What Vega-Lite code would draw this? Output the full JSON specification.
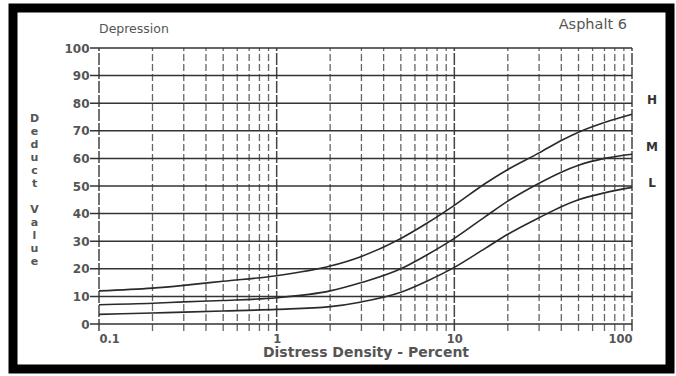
{
  "$schema": "https://vega.github.io/schema/vega-lite/v6.json",
  "width": 657,
  "height": 361,
  "autosize": {"type": "none"},
  "padding": {"left": 13, "top": 8, "right": 6, "bottom": 7},
  "background": "white",
  "config": {
    "view": {"stroke": "black", "strokeWidth": 9, "fill": "white"},
    "font": "DejaVu Sans"
  },
  "resolve": {"axis": {"x": "independent", "y": "independent"}},
  "datasets": {
    "vminor": [
      {"gx": 0.2}, {"gx": 0.3}, {"gx": 0.4}, {"gx": 0.5}, {"gx": 0.6}, {"gx": 0.7}, {"gx": 0.8}, {"gx": 0.9},
      {"gx": 2}, {"gx": 3}, {"gx": 4}, {"gx": 5}, {"gx": 6}, {"gx": 7}, {"gx": 8}, {"gx": 9},
      {"gx": 20}, {"gx": 30}, {"gx": 40}, {"gx": 50}, {"gx": 60}, {"gx": 70}, {"gx": 80}, {"gx": 90}
    ],
    "vmajor": [{"gx": 0.1}, {"gx": 1}, {"gx": 10}, {"gx": 100}],
    "hgrid": [
      {"gy": 0}, {"gy": 10}, {"gy": 20}, {"gy": 30}, {"gy": 40}, {"gy": 50},
      {"gy": 60}, {"gy": 70}, {"gy": 80}, {"gy": 90}, {"gy": 100}
    ],
    "curves": [
      {"series": "H", "density": 0.1, "deduct": 12},
      {"series": "H", "density": 0.2, "deduct": 13},
      {"series": "H", "density": 0.3, "deduct": 14},
      {"series": "H", "density": 0.5, "deduct": 15.5},
      {"series": "H", "density": 1, "deduct": 17.5},
      {"series": "H", "density": 2, "deduct": 21},
      {"series": "H", "density": 3, "deduct": 24.5},
      {"series": "H", "density": 5, "deduct": 31},
      {"series": "H", "density": 7, "deduct": 36.5},
      {"series": "H", "density": 10, "deduct": 43},
      {"series": "H", "density": 15, "deduct": 51},
      {"series": "H", "density": 20, "deduct": 56},
      {"series": "H", "density": 30, "deduct": 62},
      {"series": "H", "density": 40, "deduct": 66.5},
      {"series": "H", "density": 50, "deduct": 69.5},
      {"series": "H", "density": 70, "deduct": 73},
      {"series": "H", "density": 100, "deduct": 76},
      {"series": "M", "density": 0.1, "deduct": 7},
      {"series": "M", "density": 0.2, "deduct": 7.5},
      {"series": "M", "density": 0.3, "deduct": 8},
      {"series": "M", "density": 0.5, "deduct": 8.5},
      {"series": "M", "density": 1, "deduct": 9.5},
      {"series": "M", "density": 2, "deduct": 12},
      {"series": "M", "density": 3, "deduct": 15},
      {"series": "M", "density": 5, "deduct": 20},
      {"series": "M", "density": 7, "deduct": 25},
      {"series": "M", "density": 10, "deduct": 31},
      {"series": "M", "density": 15, "deduct": 39},
      {"series": "M", "density": 20, "deduct": 44.5},
      {"series": "M", "density": 30, "deduct": 51},
      {"series": "M", "density": 40, "deduct": 55},
      {"series": "M", "density": 50, "deduct": 57.5},
      {"series": "M", "density": 70, "deduct": 60},
      {"series": "M", "density": 100, "deduct": 61.5},
      {"series": "L", "density": 0.1, "deduct": 3.5},
      {"series": "L", "density": 0.2, "deduct": 4},
      {"series": "L", "density": 0.3, "deduct": 4.3},
      {"series": "L", "density": 0.5, "deduct": 4.7},
      {"series": "L", "density": 1, "deduct": 5.3},
      {"series": "L", "density": 2, "deduct": 6.3},
      {"series": "L", "density": 3, "deduct": 8},
      {"series": "L", "density": 5, "deduct": 11.5},
      {"series": "L", "density": 7, "deduct": 15.5},
      {"series": "L", "density": 10, "deduct": 20.5},
      {"series": "L", "density": 15, "deduct": 27.5},
      {"series": "L", "density": 20, "deduct": 32.5},
      {"series": "L", "density": 30, "deduct": 38.5},
      {"series": "L", "density": 40, "deduct": 42.5},
      {"series": "L", "density": 50, "deduct": 45},
      {"series": "L", "density": 70, "deduct": 47.5},
      {"series": "L", "density": 100, "deduct": 49.5}
    ],
    "serieslabels": [
      {"label": "H", "density": 100, "deduct": 81},
      {"label": "M", "density": 100, "deduct": 64},
      {"label": "L", "density": 100, "deduct": 51}
    ],
    "leftheader": [{"text": "Depression", "density": 0.1, "deduct": 107}],
    "rightheader": [{"text": "Asphalt 6", "density": 100, "deduct": 108.5}]
  },
  "layer": [
    {
      "data": {"name": "vminor"},
      "mark": {"type": "rule", "color": "#666666", "strokeWidth": 1.3, "strokeDash": [7, 3]},
      "encoding": {
        "x": {"field": "gx", "type": "quantitative", "scale": {"type": "log", "domain": [0.1, 100], "range": [86, 619]}, "axis": null},
        "y": {"datum": -2.5, "type": "quantitative", "scale": {"domain": [0, 100], "range": [316, 40]}, "axis": null},
        "y2": {"datum": 100}
      }
    },
    {
      "data": {"name": "vmajor"},
      "mark": {"type": "rule", "color": "#444444", "strokeWidth": 1.5, "strokeDash": [12, 2]},
      "encoding": {
        "x": {"field": "gx", "type": "quantitative", "axis": null},
        "y": {"datum": -2.5, "type": "quantitative", "axis": null},
        "y2": {"datum": 100}
      }
    },
    {
      "data": {"name": "hgrid"},
      "mark": {"type": "rule", "color": "#333333", "strokeWidth": 1.5},
      "encoding": {
        "y": {"field": "gy", "type": "quantitative", "axis": null},
        "x": {"datum": 0.089, "type": "quantitative", "axis": null},
        "x2": {"datum": 100}
      }
    },
    {
      "data": {"name": "curves"},
      "mark": {"type": "line", "color": "#2a2a2a", "strokeWidth": 1.6, "interpolate": "monotone"},
      "encoding": {
        "x": {
          "field": "density", "type": "quantitative",
          "axis": {
            "orient": "bottom", "offset": -45, "values": [0.1, 1, 10, 100], "format": "~g",
            "domain": false, "ticks": false, "grid": false,
            "labelPadding": 9, "labelFontSize": 11.5, "labelColor": "#555555", "labelFont": "DejaVu Sans", "labelFontWeight": "bold",
            "title": "Distress Density - Percent", "titleFontSize": 14, "titleFontWeight": "bold", "titleColor": "#555555",
            "titlePadding": 1, "titleFont": "DejaVu Sans"
          }
        },
        "y": {
          "field": "deduct", "type": "quantitative",
          "axis": {
            "orient": "left", "offset": -86, "values": [0, 10, 20, 30, 40, 50, 60, 70, 80, 90, 100],
            "domain": false, "ticks": false, "grid": false,
            "labelPadding": 10, "labelFontSize": 12, "labelColor": "#555555", "labelFont": "DejaVu Sans", "labelFontWeight": "bold",
            "title": ["D", "e", "d", "u", "c", "t", "\u2800", "V", "a", "l", "u", "e"],
            "titleAngle": 0, "titleAlign": "center", "titleBaseline": "middle",
            "titleX": -65, "titleY": 110, "titleLineHeight": 13,
            "titleFontSize": 11, "titleFontWeight": "bold", "titleColor": "#555555", "titleFont": "DejaVu Sans"
          }
        },
        "detail": {"field": "series", "type": "nominal"}
      }
    },
    {
      "data": {"name": "serieslabels"},
      "mark": {"type": "text", "dx": 20, "fontSize": 12, "fontWeight": "bold", "color": "#333333", "align": "center", "baseline": "middle"},
      "encoding": {
        "x": {"field": "density", "type": "quantitative", "axis": null},
        "y": {"field": "deduct", "type": "quantitative", "axis": null},
        "text": {"field": "label", "type": "nominal"}
      }
    },
    {
      "data": {"name": "leftheader"},
      "mark": {"type": "text", "fontSize": 12.5, "color": "#555555", "baseline": "middle", "align": "left"},
      "encoding": {
        "x": {"field": "density", "type": "quantitative", "axis": null},
        "y": {"field": "deduct", "type": "quantitative", "axis": null},
        "text": {"field": "text", "type": "nominal"}
      }
    },
    {
      "data": {"name": "rightheader"},
      "mark": {"type": "text", "fontSize": 14.5, "color": "#555555", "baseline": "middle", "align": "right", "dx": -5},
      "encoding": {
        "x": {"field": "density", "type": "quantitative", "axis": null},
        "y": {"field": "deduct", "type": "quantitative", "axis": null},
        "text": {"field": "text", "type": "nominal"}
      }
    }
  ]
}
